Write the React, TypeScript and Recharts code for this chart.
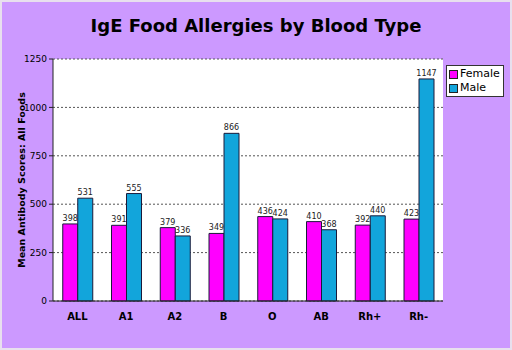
import { BarChart, Bar, XAxis, YAxis, CartesianGrid, LabelList } from "recharts";

const categories = ["ALL", "A1", "A2", "B", "O", "AB", "Rh+", "Rh-"];
const female = [398, 391, 379, 349, 436, 410, 392, 423];
const male = [531, 555, 336, 866, 424, 368, 440, 1147];
const yTicks = [0, 250, 500, 750, 1000, 1250];

const data = categories.map((name, i) => ({ name, Female: female[i], Male: male[i] }));

const FEMALE = "#FF00FF";
const MALE = "#12A5DB";
const FONT = "'DejaVu Sans', Verdana, sans-serif";

function LegendBox() {
  const items = [
    { label: "Female", color: FEMALE },
    { label: "Male", color: MALE },
  ];
  return (
    <div
      style={{
        position: "absolute",
        left: 444,
        top: 63,
        background: "#fff",
        border: "1px solid #333",
        padding: "1px 3px 1px 2px",
        fontFamily: FONT,
        fontSize: 11,
        lineHeight: "14px",
        color: "#000",
      }}
    >
      {items.map((it) => (
        <div key={it.label} style={{ display: "flex", alignItems: "center" }}>
          <span
            style={{
              display: "inline-block",
              width: 7,
              height: 7,
              background: it.color,
              border: "1px solid #222",
              marginRight: 2,
            }}
          />
          {it.label}
        </div>
      ))}
    </div>
  );
}

export default function App() {
  return (
    <div
      style={{
        position: "fixed",
        left: 0,
        top: 0,
        width: 512,
        height: 350,
        boxSizing: "border-box",
        border: "2px solid #e8e0ee",
        background: "#CC99FF",
        fontFamily: FONT,
      }}
    >
      <div
        style={{
          position: "absolute",
          left: 0,
          right: 0,
          top: 13,
          textAlign: "center",
          fontWeight: "bold",
          fontSize: 18,
          color: "#000",
        }}
      >
        IgE Food Allergies by Blood Type
      </div>
      <div style={{ position: "absolute", left: -2, top: -2 }}>
        <BarChart
          width={512}
          height={350}
          data={data}
          margin={{ top: 59, right: 69, left: 13, bottom: 19 }}
          barCategoryGap="20%"
          barGap={0}
        >
          <CartesianGrid
            yAxisId="l"
            vertical={false}
            horizontal={true}
            stroke="#555"
            strokeDasharray="2 2"
            fill="#fff"
          />
          <XAxis
            dataKey="name"
            height={30}
            tickLine={false}
            axisLine={{ stroke: "#222" }}
            tick={{ fontSize: 10, fontWeight: "bold", fill: "#000", fontFamily: FONT }}
            tickMargin={6}
            interval={0}
          />
          <YAxis
            yAxisId="l"
            width={40}
            domain={[0, 1250]}
            ticks={yTicks}
            interval={0}
            tickLine={{ stroke: "#222" }}
            tickSize={4}
            axisLine={{ stroke: "#222" }}
            tick={{ fontSize: 9, fill: "#000", fontFamily: FONT }}
            label={{
              value: "Mean Antibody Scores: All Foods",
              angle: -90,
              position: "insideLeft",
              offset: 9,
              style: { textAnchor: "middle", fontSize: 9.5, fontWeight: "bold", fill: "#000", fontFamily: FONT },
            }}
          />
          <YAxis
            yAxisId="r"
            orientation="right"
            width={0}
            domain={[0, 1250]}
            tick={false}
            tickLine={false}
            axisLine={{ stroke: "#999" }}
          />
          <Bar yAxisId="l" dataKey="Female" fill={FEMALE} stroke="#1a1a3a" strokeWidth={1} isAnimationActive={false}>
            <LabelList dataKey="Female" position="top" offset={3} style={{ fontSize: 8, fill: "#222", fontFamily: FONT }} />
          </Bar>
          <Bar yAxisId="l" dataKey="Male" fill={MALE} stroke="#1a1a3a" strokeWidth={1} isAnimationActive={false}>
            <LabelList dataKey="Male" position="top" offset={3} style={{ fontSize: 8, fill: "#222", fontFamily: FONT }} />
          </Bar>
        </BarChart>
      </div>
      <LegendBox />
    </div>
  );
}
